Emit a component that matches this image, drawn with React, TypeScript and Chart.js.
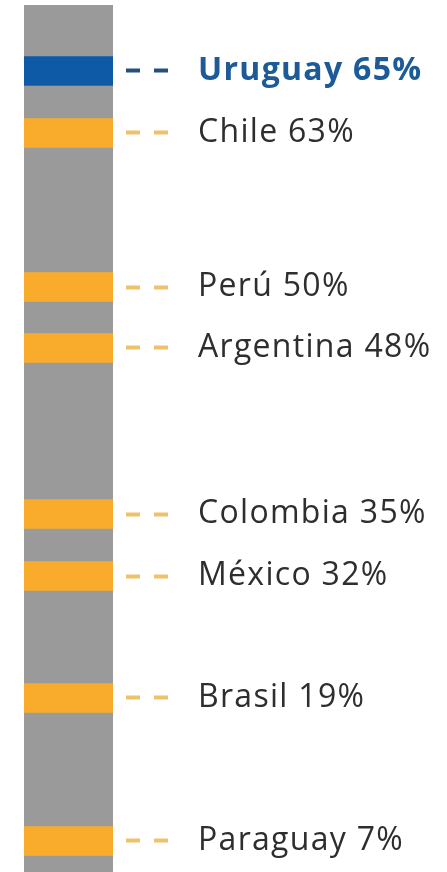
import React, { useEffect, useRef } from "react";
import { Chart, registerables } from "chart.js";

Chart.register(...registerables);

// Countries and their shares (%)
const countries = ["Uruguay", "Chile", "Perú", "Argentina", "Colombia", "México", "Brasil", "Paraguay"];
const shares = [65, 63, 50, 48, 35, 32, 19, 7];
// Position of each band along the column (0 = top of column, 100 = bottom)
const bandPositions = [7.61, 14.76, 32.53, 39.56, 58.71, 65.86, 79.93, 96.42];
const highlighted = "Uruguay";

const BAND_THICKNESS = 3.34;
const GRAY = "#9a9a9a";
const ORANGE = "#f9ab2c";
const BLUE = "#0e5aa7";
const BLUE_TEXT = "#1c5a98";
const BLUE_DASH = "#26507c";
const ORANGE_DASH = "#eec26a";
const TEXT = "#2e2e2e";

const letterSpacingPlugin = {
  id: "letterSpacing",
  beforeDraw(chart: any) {
    (chart.ctx as any).letterSpacing = "1.3px";
  },
  afterDraw(chart: any) {
    (chart.ctx as any).letterSpacing = "0px";
  },
};

export default function App() {
  const canvasRef = useRef<HTMLCanvasElement | null>(null);

  useEffect(() => {
    if (!canvasRef.current) return;
    const isHi = (i: number) => countries[i] === highlighted;

    const bandSets = countries.map((c, i) => ({
      label: c,
      data: [[bandPositions[i] - BAND_THICKNESS / 2, bandPositions[i] + BAND_THICKNESS / 2]],
      backgroundColor: isHi(i) ? BLUE : ORANGE,
      borderWidth: 0,
      grouped: false,
      barPercentage: 1,
      categoryPercentage: 1,
      order: 0,
    }));

    const chart = new Chart(canvasRef.current, {
      type: "bar",
      data: {
        labels: [""],
        datasets: [
          ...bandSets,
          {
            label: "column",
            data: [[0, 100]],
            backgroundColor: GRAY,
            borderWidth: 0,
            grouped: false,
            barPercentage: 1,
            categoryPercentage: 1,
            order: 10,
          } as any,
        ],
      },
      options: {
        animation: false,
        responsive: true,
        maintainAspectRatio: false,
        layout: { padding: { left: 24, top: 5, right: 0, bottom: 0 } },
        plugins: {
          legend: { display: false },
          tooltip: { enabled: false },
        },
        scales: {
          x: { type: "category", display: false },
          y: {
            type: "linear",
            position: "right",
            reverse: true,
            min: 0,
            max: 100,
            border: { display: false },
            afterBuildTicks: (scale: any) => {
              scale.ticks = bandPositions.map((v) => ({ value: v }));
            },
            afterFit: (scale: any) => {
              scale.width = 334;
              scale.paddingTop = 0;
              scale.paddingBottom = 0;
            },
            grid: {
              display: true,
              drawOnChartArea: false,
              drawTicks: true,
              tickLength: 55,
              tickWidth: 4,
              tickColor: (ctx: any) => (isHi(ctx.index) ? BLUE_DASH : ORANGE_DASH),
              tickBorderDash: [14, 14],
              tickBorderDashOffset: 15,
            },
            ticks: {
              autoSkip: false,
              padding: 30,
              color: (ctx: any) => (isHi(ctx.index) ? BLUE_TEXT : TEXT),
              font: (ctx: any) => ({
                family: "'Open Sans', sans-serif",
                size: 32,
                weight: isHi(ctx.index) ? "bold" : "normal",
              }),
              callback: (_v: any, i: number) => `${countries[i]} ${shares[i]}%`,
            },
          },
        },
      } as any,
      plugins: [letterSpacingPlugin],
    });
    return () => chart.destroy();
  }, []);

  return (
    <div style={{ position: "fixed", left: 0, top: 0, width: 447, height: 872, background: "#fff" }}>
      <canvas ref={canvasRef} />
    </div>
  );
}
